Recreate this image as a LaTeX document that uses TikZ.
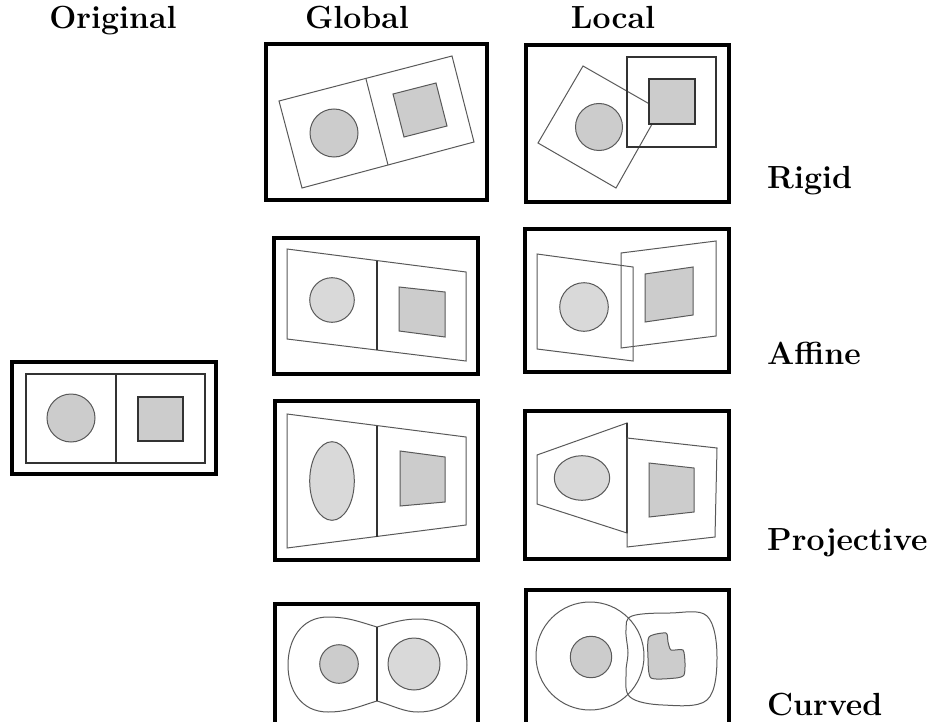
\documentclass[tikz,border=0pt]{standalone}
\begin{document}
\begin{tikzpicture}[x=1pt,y=-1pt,
  frame/.style={draw=black,line width=3.3pt},
  thin/.style={draw=black!65,line width=1pt},
  dark/.style={draw=black!80,line width=1.3pt},
  gfill/.style={fill=black!20},
  lfill/.style={fill=black!15},
  lab/.style={font=\fontsize{32}{38}\selectfont\bfseries,anchor=base west,inner sep=0pt},
  toplab/.style={font=\fontsize{32}{38}\selectfont\bfseries,anchor=base,inner sep=0pt}]
\useasboundingbox (0,0) rectangle (936,722);

% labels
\node[toplab] (tOrig) at (113,29) {Original};
\node[toplab] (tGlob) at (357,29) {Global};
\node[toplab] (tLoc) at (613,29) {Local};
\node[lab] (tRigid) at (767,189) {Rigid};
\node[lab] (tAff) at (767,364) {Affine};
\node[lab] (tProj) at (767,550) {Projective};
\node[lab] (tCurv) at (767,715) {Curved};

% ---------- Original ----------
\draw[frame] (12,362) rectangle (216,474);
\draw[dark] (26,374) rectangle (205,463);
\draw[dark] (116,374) -- (116,463);
\draw[thin,gfill] (71,418) circle[radius=24];
\draw[dark,gfill] (138,397) rectangle (183,441);

% ---------- Global rigid ----------
\draw[frame] (266,44) rectangle (487,200);
\draw[thin] (279,101) -- (452,56) -- (474,142) -- (302,188) -- cycle;
\draw[thin] (366,79) -- (388,165);
\draw[thin,gfill] (334,133) circle[radius=24];
\draw[thin,gfill] (393,94) -- (436,83) -- (447,126) -- (404,137) -- cycle;

% ---------- Local rigid ----------
\draw[frame] (526,45) rectangle (729,202);
\draw[thin] (583,66) -- (660,110) -- (616,188) -- (538,143) -- cycle;
\draw[thin,gfill] (599,127) circle[radius=23.5];
\draw[dark] (627,57) rectangle (716,147);
\draw[dark,gfill] (649,79) rectangle (695,124);

% ---------- Global affine ----------
\draw[frame] (274,238) rectangle (478,374);
\draw[thin] (287,249) -- (466,272) -- (466,361) -- (287,339) -- cycle;
\draw[dark] (377,261) -- (377,350);
\draw[thin,lfill] (332,300) circle[radius=22.3];
\draw[thin,gfill] (399,287) -- (445,292) -- (445,337) -- (399,331) -- cycle;

% ---------- Local affine ----------
\draw[frame] (525,229) rectangle (729,372);
\draw[thin] (537,254) -- (633,267) -- (633,361) -- (537,349) -- cycle;
\draw[thin] (621,253) -- (716,241) -- (716,336) -- (621,348) -- cycle;
\draw[thin,lfill] (584,307) circle[radius=24.3];
\draw[thin,gfill] (645,274) -- (693,267) -- (693,315) -- (645,322) -- cycle;

% ---------- Global projective ----------
\draw[frame] (275,401) rectangle (478,560);
\draw[thin] (287,414) -- (466,437) -- (466,525) -- (287,548) -- cycle;
\draw[dark] (377,426) -- (377,537);
\draw[thin,lfill] (332,481) ellipse[x radius=22.3,y radius=39.3];
\draw[thin,gfill] (400,451) -- (445,457) -- (445,502) -- (400,506) -- cycle;

% ---------- Local projective ----------
\draw[frame] (525,411) rectangle (729,559);
\draw[thin] (537,455) -- (627,423) -- (627,533) -- (537,504) -- cycle;
\draw[dark] (627,423) -- (627,533);
\draw[thin] (627,438) -- (717,448) -- (715,537) -- (627,547) -- cycle;
\draw[thin,lfill] (582,478) ellipse[x radius=27.7,y radius=22.3];
\draw[thin,gfill] (649,463) -- (694,468) -- (694,512) -- (649,517) -- cycle;

% ---------- Global curved ----------
\draw[frame] (275,726) -- (275,604) -- (478,604) -- (478,726);
\draw[thin] (377,627) .. controls (360,622) and (348,617) .. (328,617)
  .. controls (301,617) and (288,640) .. (288,665)
  .. controls (288,690) and (301,712) .. (328,712)
  .. controls (348,712) and (360,706) .. (377,701)
  .. controls (394,706) and (404,712) .. (418,712)
  .. controls (450,712) and (467,690) .. (467,665)
  .. controls (467,640) and (450,619) .. (418,619)
  .. controls (404,619) and (394,622) .. (377,627);
\draw[dark] (377,627) -- (377,701);
\draw[thin,gfill] (339,664) circle[radius=19.3];
\draw[thin,lfill] (414,664) circle[radius=26];

% ---------- Local curved ----------
\draw[frame] (526,726) -- (526,590) -- (729,590) -- (729,726);
\draw[thin] (590,656) circle[radius=54];
\draw[thin,gfill] (591,657) circle[radius=20.7];
\draw[thin] plot[smooth cycle,tension=0.6] coordinates
  {(632,616) (670,613) (707,616) (717,657) (707,700) (663,705) (630,697) (626,673) (628,653) (626,630)};
\draw[thin,gfill] plot[smooth cycle,tension=0.4] coordinates
  {(649,637) (666,633) (668,642) (671,650) (683,650) (685,663) (684,675) (676,678) (651,678) (648,658)};
\end{tikzpicture}
\end{document}
